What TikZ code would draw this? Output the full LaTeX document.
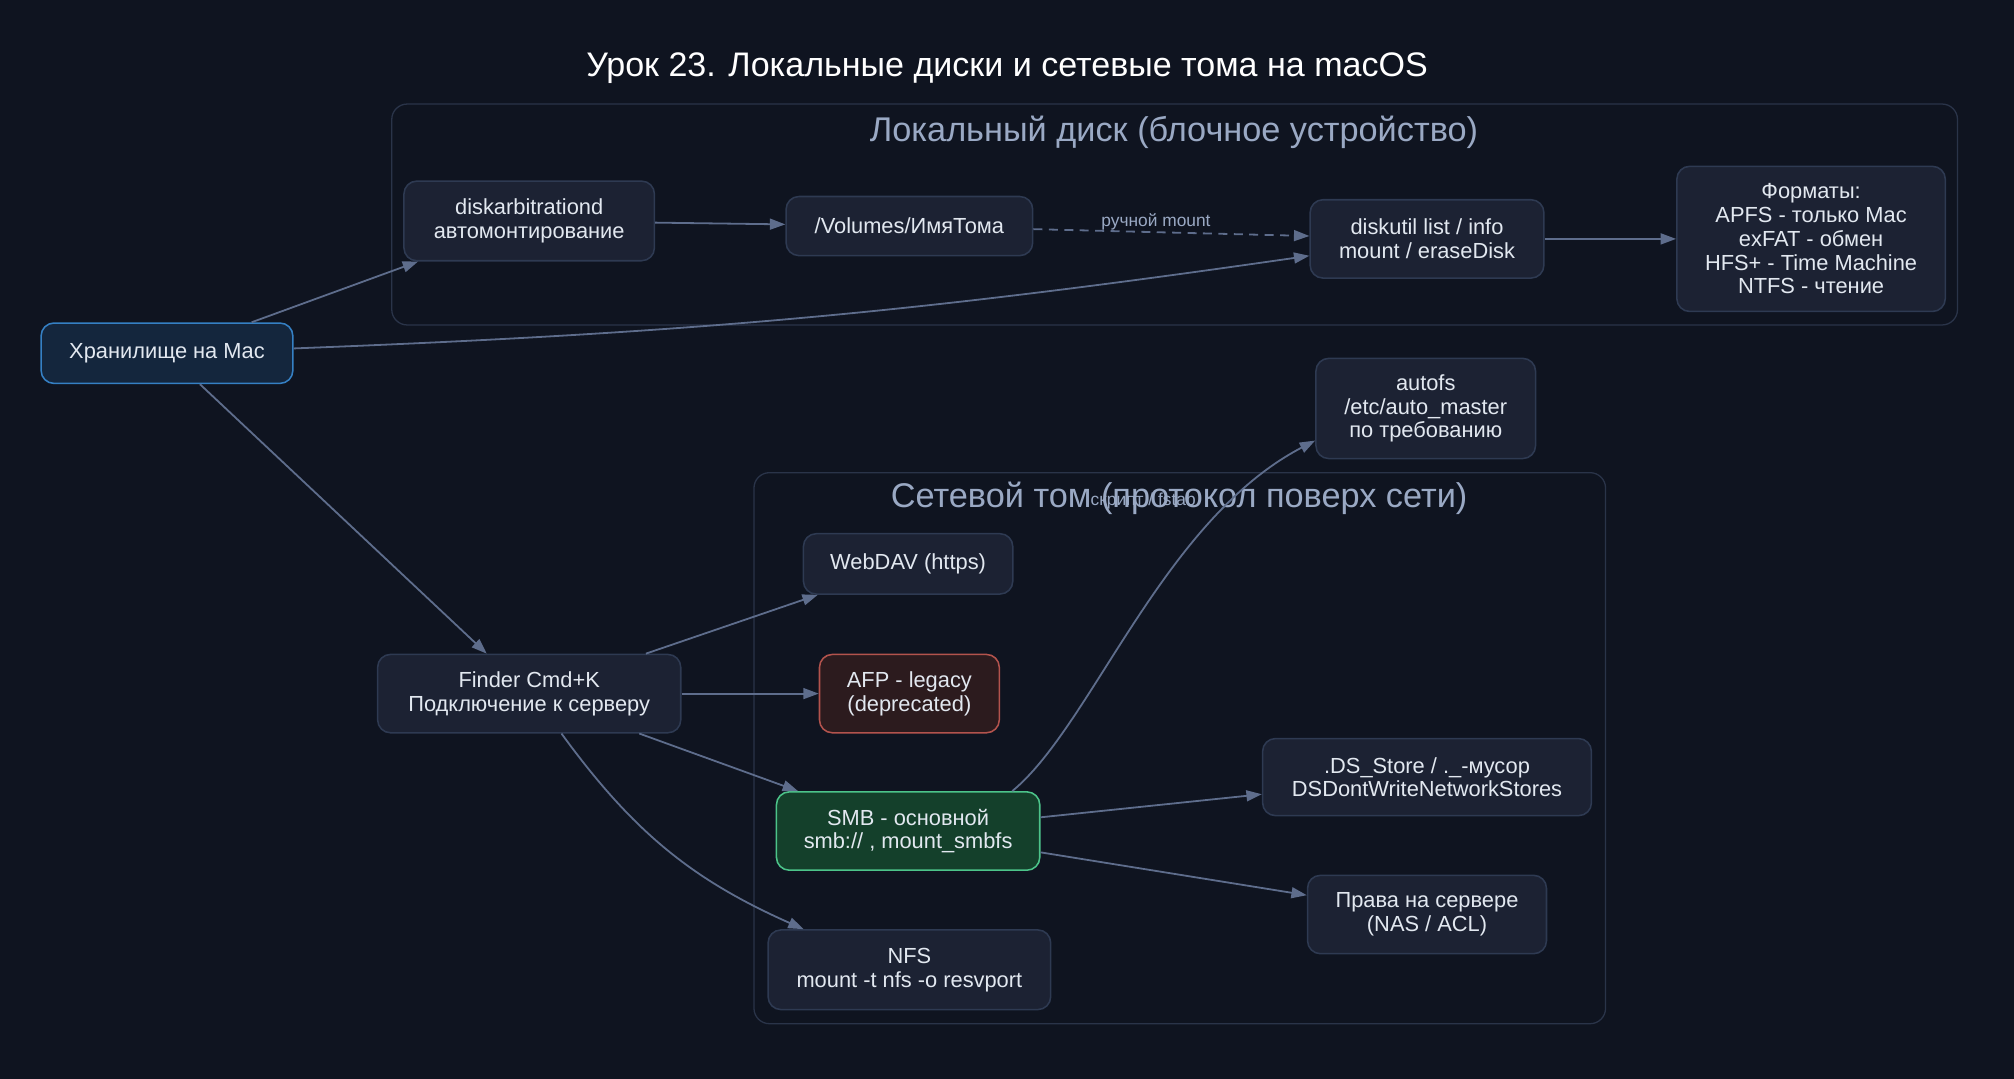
\documentclass[tikz,border=0pt]{standalone}
\usepackage{fontspec}
\setmainfont{Liberation Sans}
\usetikzlibrary{arrows.meta}

\definecolor{bgdark}{HTML}{0F1420}
\definecolor{boxfill}{HTML}{1C2233}
\definecolor{boxline}{HTML}{2E3A52}
\definecolor{boxtext}{HTML}{E2E8F0}
\definecolor{edgecol}{HTML}{5E6D8C}
\definecolor{clusterline}{HTML}{2A3449}
\definecolor{clustertext}{HTML}{9AA9C4}
\definecolor{rootfill}{HTML}{14263D}
\definecolor{rootline}{HTML}{3580C4}
\definecolor{afpfill}{HTML}{2C1B1E}
\definecolor{afpline}{HTML}{B3534D}
\definecolor{smbfill}{HTML}{14402B}
\definecolor{smbline}{HTML}{4CC48A}

\newcommand\nodefont{\fontsize{17}{18.5}\selectfont}
\newcommand\clusterfont{\fontsize{26.7}{29}\selectfont}
\newcommand\titlefont{\fontsize{26.5}{29}\selectfont}
\newcommand\edgefont{\fontsize{13.5}{15}\selectfont}

\begin{document}
\begin{tikzpicture}[x=1pt, y=-1pt,
    box/.style={draw=boxline, fill=boxfill, rounded corners=10pt, line width=1.2pt,
      text=boxtext, align=center, font=\nodefont, inner sep=0pt},
    sz/.style 2 args={minimum width=#1pt, minimum height=#2pt},
    rootbox/.style={box, draw=rootline, fill=rootfill},
    afpbox/.style={box, draw=afpline, fill=afpfill},
    smbbox/.style={box, draw=smbline, fill=smbfill},
    cluster/.style={draw=clusterline, line width=1pt, rounded corners=12pt},
    ctitle/.style={text=clustertext, font=\clusterfont},
    edge/.style={draw=edgecol, line width=1.4pt, -{Triangle[length=12pt, width=8.5pt]}},
    elabel/.style={text=clustertext, font=\edgefont, inner sep=1pt}]
  \fill[bgdark] (0,0) rectangle (1568,840);
  \node[text=white, font=\titlefont] (title) at (784,53) {Урок 23. Локальные диски и сетевые тома на macOS};

  \draw[cluster] (305,81) rectangle (1524,253);
  \node[ctitle] (loc) at (914,103) {Локальный диск (блочное устройство)};
  \draw[cluster] (587,368) rectangle (1250,797);
  \node[ctitle] (net) at (918,388) {Сетевой том (протокол поверх сети)};

  \node[rootbox, sz={196}{47}] (root) at (130,275) {Хранилище на Mac};
  \node[box, sz={195}{62}] (dsk) at (412,172) {diskarbitrationd\\автомонтирование};
  \node[box, sz={192}{46}] (vol) at (708,176) {/Volumes/ИмяТома};
  \node[box, sz={182}{61}] (dutil) at (1111,186) {diskutil list / info\\mount / eraseDisk};
  \node[box, sz={209}{113}] (fmt) at (1410,186)
    {Форматы:\\APFS - только Mac\\exFAT - обмен\\HFS+ - Time Machine\\NTFS - чтение};
  \node[box, sz={171}{78}] (autofs) at (1110,318) {autofs\\/etc/auto\_master\\по требованию};
  \node[box, sz={163}{47}] (webdav) at (707,439) {WebDAV (https)};
  \node[box, sz={236}{61}] (finder) at (412,540) {Finder Cmd+K\\Подключение к серверу};
  \node[afpbox, sz={140}{61}] (afp) at (708,540) {AFP - legacy\\(deprecated)};
  \node[box, sz={256}{60}] (dsstore) at (1111,605) {.DS\_Store / .\_-мусор\\DSDontWriteNetworkStores};
  \node[smbbox, sz={205}{61}] (smb) at (707,647) {SMB - основной\\smb:// , mount\_smbfs};
  \node[box, sz={186}{61}] (rights) at (1111,712) {Права на сервере\\(NAS / ACL)};
  \node[box, sz={220}{62}] (nfs) at (708,755) {NFS\\mount -t nfs -o resvport};

  \foreach \a/\b in {root/dsk, dsk/vol, dutil/fmt, root/finder, finder/webdav,
      finder/afp, finder/smb, smb/dsstore, smb/rights}
    \draw[edge] (\a) -- (\b);
  \draw[edge, dash pattern=on 7pt off 5pt] (vol) -- (dutil);
  \node[elabel] (lblman) at (900,173) {ручной mount};
  \draw[edge] (root) to[bend right=3] (dutil);
  \draw[edge] (finder) to[bend right=15] (nfs);
  \draw[edge] ([xshift=-22pt]smb.north east) .. controls (850,565) and (905,405)
    .. ([yshift=-25pt]autofs.west);
  \node[elabel] (lblscr) at (890,390) {скрипт / fstab};
\end{tikzpicture}
\end{document}
